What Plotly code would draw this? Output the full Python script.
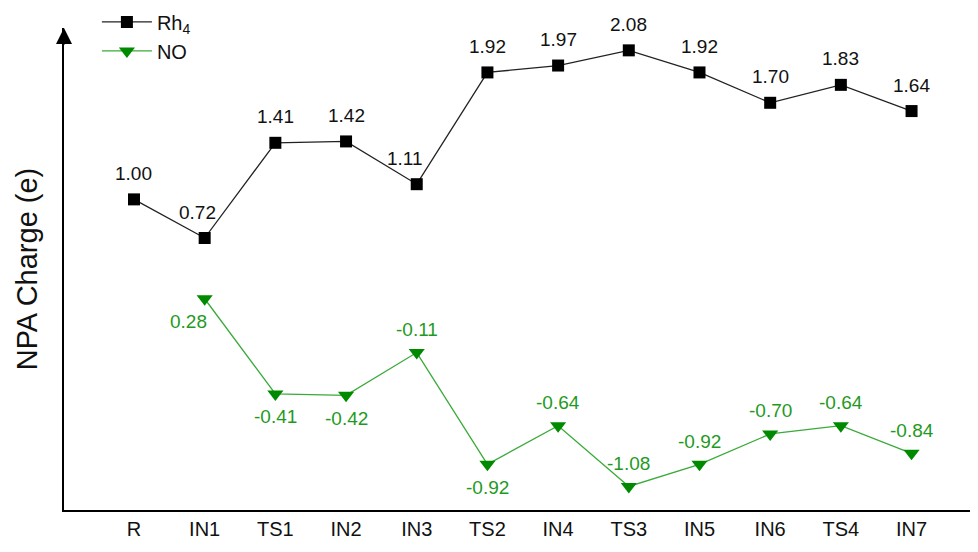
import plotly.graph_objects as go

categories = ["R", "IN1", "TS1", "IN2", "IN3", "TS2", "IN4", "TS3", "IN5", "IN6", "TS4", "IN7"]
rh4_values = [1.00, 0.72, 1.41, 1.42, 1.11, 1.92, 1.97, 2.08, 1.92, 1.70, 1.83, 1.64]
no_categories = categories[1:]
no_values = [0.28, -0.41, -0.42, -0.11, -0.92, -0.64, -1.08, -0.92, -0.70, -0.64, -0.84]
# label placement: +1 above the marker, -1 below it
no_label_side = [-1, -1, -1, 1, -1, 1, 1, 1, 1, 1, 1]

FONT = "Liberation Sans, Arial, sans-serif"
RH_COLOR_TEXT = "#111111"
NO_COLOR_TEXT = "#1f9a1f"

fig = go.Figure()
fig.add_trace(go.Scatter(
    x=categories, y=rh4_values, name="Rh<sub>4</sub>",
    mode="lines+markers",
    line=dict(color="#222222", width=1.3),
    marker=dict(symbol="square", size=12, color="#000000"),
    cliponaxis=False,
))
fig.add_trace(go.Scatter(
    x=no_categories, y=no_values, name="NO",
    mode="lines+markers",
    line=dict(color="#3aaa3a", width=1.3),
    marker=dict(symbol="triangle-down", size=14, color="#008a00"),
    cliponaxis=False,
))

for c, v in zip(categories, rh4_values):
    xs = 0
    if c == "IN1":
        xs = -7
    elif c == "IN3":
        xs = -12
    fig.add_annotation(x=c, y=v, text=f"{v:.2f}", showarrow=False,
                       yshift=26, xshift=xs,
                       font=dict(size=19, color=RH_COLOR_TEXT, family=FONT))

for c, v, s in zip(no_categories, no_values, no_label_side):
    xs = -16 if c == "IN1" else 0
    fig.add_annotation(x=c, y=v, text=f"{v:.2f}", showarrow=False,
                       yshift=23 * s, xshift=xs,
                       font=dict(size=19, color=NO_COLOR_TEXT, family=FONT))

# the page body has an 8px margin; the figure is sized/margined to compensate
fig.update_layout(
    width=970, height=544,
    margin=dict(l=56, r=0, t=20, b=42, autoexpand=False),
    plot_bgcolor="white", paper_bgcolor="white",
    font=dict(family=FONT, color="#111111"),
    xaxis=dict(
        type="category", categoryorder="array", categoryarray=categories,
        range=[-0.99, 11.94], showgrid=False, zeroline=False,
        showline=True, linecolor="#000000", linewidth=2,
        ticks="", tickfont=dict(size=20, color="#111111"),
    ),
    yaxis=dict(
        range=[-1.251, 2.242], showgrid=False, zeroline=False,
        showline=True, linecolor="#000000", linewidth=2,
        showticklabels=False, ticks="",
        title=dict(text="NPA Charge (e)", font=dict(size=29, color="#111111"), standoff=16),
    ),
    legend=dict(
        x=0.036, y=1.053, xanchor="left", yanchor="top",
        font=dict(size=20, color="#111111"), bgcolor="rgba(0,0,0,0)",
        tracegroupgap=0, itemwidth=50,
    ),
    showlegend=True,
)

fig.add_annotation(
    x=0, y=1, xref="paper", yref="paper", ax=0, ay=18, axref="pixel", ayref="pixel",
    showarrow=True, arrowhead=2, arrowsize=1.6, arrowwidth=2, arrowcolor="#000000", text="",
)

fig.write_html("out.html")
